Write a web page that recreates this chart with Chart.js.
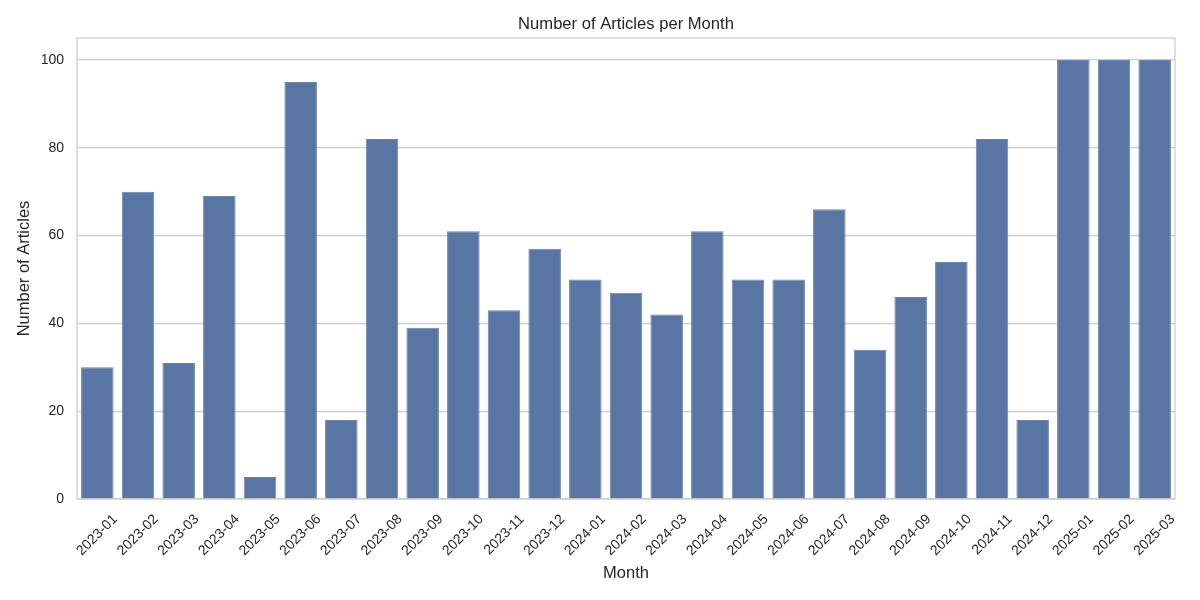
<!DOCTYPE html>
<html>
<head>
<meta charset="utf-8">
<script src="https://cdn.jsdelivr.net/npm/chart.js@4/dist/chart.umd.min.js"></script>
<style>
  html, body { margin: 0; padding: 0; background: #ffffff; }
  #wrap { width: 1200px; height: 600px; }
</style>
</head>
<body>
<div id="wrap"><canvas id="c" width="1200" height="600"></canvas></div>
<script>
const months = ["2023-01","2023-02","2023-03","2023-04","2023-05","2023-06","2023-07","2023-08","2023-09","2023-10","2023-11","2023-12","2024-01","2024-02","2024-03","2024-04","2024-05","2024-06","2024-07","2024-08","2024-09","2024-10","2024-11","2024-12","2025-01","2025-02","2025-03"];
const articleCounts = [30,70,31,69,5,95,18,82,39,61,43,57,50,47,42,61,50,50,66,34,46,54,82,18,100,100,100];
const yTicks = [0,20,40,60,80,100];

const FONT = "'Liberation Sans', Arial, sans-serif";
const TEXT = '#262626';

const framePlugin = {
  id: 'frame',
  afterDraw(chart) {
    const {ctx, chartArea: a} = chart;
    ctx.save();
    ctx.strokeStyle = '#cccccc';
    ctx.lineWidth = 1.25;
    ctx.strokeRect(a.left, a.top, a.right - a.left, a.bottom - a.top);
    ctx.restore();
  }
};

new Chart(document.getElementById('c'), {
  type: 'bar',
  data: {
    labels: months,
    datasets: [{
      data: articleCounts,
      backgroundColor: '#5875a4',
      borderColor: '#6984b0',
      borderWidth: 1,
      categoryPercentage: 0.8,
      barPercentage: 1.0
    }]
  },
  options: {
    responsive: false,
    animation: false,
    devicePixelRatio: 1,
    layout: { padding: { left: 0, right: 25, top: 0, bottom: 0 } },
    plugins: {
      legend: { display: false },
      tooltip: { enabled: false },
      title: { display: false }
    },
    scales: {
      x: {
        offset: true,
        grid: { display: false, drawTicks: false },
        border: { display: false },
        ticks: {
          color: TEXT,
          font: { family: FONT, size: 14 },
          maxRotation: 45,
          minRotation: 45,
          autoSkip: false,
          padding: 12,
          labelOffset: 18
        },
        title: {
          display: true,
          text: 'Month',
          color: TEXT,
          font: { family: FONT, size: 16.5 },
          padding: { top: 0, bottom: 17 }
        },
        afterFit(scale) { scale.height = 101; }
      },
      xTop: {
        type: 'category',
        position: 'top',
        offset: true,
        grid: { display: false, drawTicks: false },
        border: { display: false },
        ticks: { display: false },
        title: {
          display: true,
          text: 'Number of Articles per Month',
          color: TEXT,
          font: { family: FONT, size: 16.6 },
          padding: { top: 14, bottom: 4 }
        },
        afterFit(scale) { scale.height = 38; }
      },
      y: {
        min: 0,
        max: 105,
        grid: { color: '#cccccc', lineWidth: 1.2, drawTicks: false },
        border: { display: false },
        afterBuildTicks(scale) {
          scale.ticks = yTicks.map(v => ({ value: v }));
        },
        ticks: {
          color: TEXT,
          font: { family: FONT, size: 14 },
          padding: 13
        },
        title: {
          display: true,
          text: 'Number of Articles',
          color: TEXT,
          font: { family: FONT, size: 16.5 },
          padding: { top: 15, bottom: 0 }
        },
        afterFit(scale) { scale.width = 77; }
      }
    }
  },
  plugins: [framePlugin]
});
</script>
</body>
</html>
